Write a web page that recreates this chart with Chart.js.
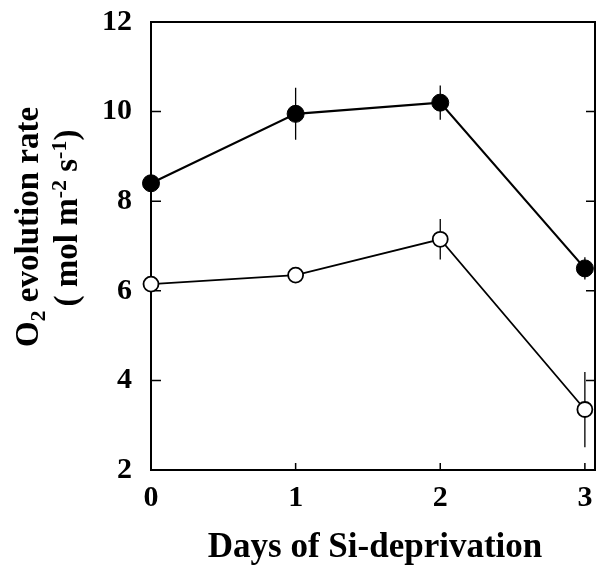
<!DOCTYPE html>
<html>
<head>
<meta charset="utf-8">
<script src="https://cdn.jsdelivr.net/npm/chart.js@4/dist/chart.umd.min.js"></script>
<style>
  body { margin: 0; background: #fff; }
  #wrap { width: 600px; height: 566px; }
</style>
</head>
<body>
<div id="wrap"><canvas id="o2Chart" width="600" height="566"></canvas></div>
<script>
const days = [0, 1, 2, 3];
const filledRate = [8.4, 9.95, 10.2, 6.5];
const filledErr = [0.15, 0.58, 0.38, 0.25];
const openRate = [6.15, 6.35, 7.15, 3.35];
const openErr = [0.1, 0.1, 0.45, 0.84];
const xTicks = [0, 1, 2, 3];
const yTicks = [2, 4, 6, 8, 10, 12];

const serif = '"Liberation Serif", "Times New Roman", serif';
const toPts = (ys) => days.map((d, i) => ({ x: d, y: ys[i] }));

// rotated text with sub/superscripts: parts = [[text, 'n'|'sub'|'sup'], ...]
const drawRich = (ctx, parts, bx, cy, size) => {
    const fontFor = t => `bold ${t === 'n' ? size : Math.round(size * 0.68)}px ${serif}`;
    let total = 0;
    parts.forEach(([s, t]) => { ctx.font = fontFor(t); total += ctx.measureText(s).width; });
    ctx.save();
    ctx.translate(bx, cy);
    ctx.rotate(-Math.PI / 2);
    ctx.textBaseline = 'alphabetic';
    ctx.textAlign = 'left';
    let x = -total / 2;
    parts.forEach(([s, t]) => {
        ctx.font = fontFor(t);
        const dy = t === 'sub' ? size * 0.22 : t === 'sup' ? -size * 0.34 : 0;
        ctx.fillText(s, x, dy);
        x += ctx.measureText(s).width;
    });
    ctx.restore();
};

const framePlugin = {
    id: 'frame',
    beforeDatasetsDraw(chart) {
        const { ctx, chartArea: a, scales: { x, y } } = chart;
        ctx.save();
        ctx.strokeStyle = '#000';
        ctx.lineWidth = 2;
        ctx.strokeRect(a.left, a.top, a.right - a.left, a.bottom - a.top);
        ctx.lineWidth = 1.5;
        ctx.beginPath();
        y.ticks.forEach(t => {
            const py = y.getPixelForValue(t.value);
            if (t.value === 2 || t.value === 12) return;
            ctx.moveTo(a.left, py); ctx.lineTo(a.left + 10, py);
            ctx.moveTo(a.right, py); ctx.lineTo(a.right - 9, py);
        });
        x.ticks.forEach(t => {
            const px = x.getPixelForValue(t.value);
            if (t.value === 0) return;
            ctx.moveTo(px, a.bottom); ctx.lineTo(px, a.bottom - 7);
        });
        ctx.stroke();

        // error bars
        ctx.lineWidth = 1.3;
        ctx.beginPath();
        [[filledRate, filledErr], [openRate, openErr]].forEach(([vals, errs]) => {
            vals.forEach((v, i) => {
                const px = x.getPixelForValue(days[i]);
                ctx.moveTo(px, y.getPixelForValue(v + errs[i]));
                ctx.lineTo(px, y.getPixelForValue(v - errs[i]));
            });
        });
        ctx.stroke();
        ctx.restore();
    },
    afterDraw(chart) {
        const { ctx } = chart;
        ctx.save();
        ctx.fillStyle = '#000';
        ctx.font = `bold 35px ${serif}`;
        ctx.textAlign = 'center';
        ctx.textBaseline = 'alphabetic';
        ctx.fillText('Days of Si-deprivation', 375, 557);
        ctx.restore();
        ctx.fillStyle = '#000';
        drawRich(ctx, [['O', 'n'], ['2', 'sub'], [' evolution rate', 'n']], 38, 227, 33);
        drawRich(ctx, [['( mol m', 'n'], ['-2', 'sup'], [' s', 'n'], ['-1', 'sup'], [')', 'n']], 77, 218, 33);
    }
};

new Chart(document.getElementById('o2Chart'), {
    type: 'scatter',
    data: {
        datasets: [
            {
                data: toPts(filledRate), showLine: true, clip: false,
                borderColor: '#000', borderWidth: 2.2,
                pointBackgroundColor: '#000', pointBorderColor: '#000',
                pointRadius: 8.5, pointBorderWidth: 1
            },
            {
                data: toPts(openRate), showLine: true, clip: false,
                borderColor: '#000', borderWidth: 1.8,
                pointBackgroundColor: '#fff', pointBorderColor: '#000',
                pointRadius: 7.5, pointBorderWidth: 1.8
            }
        ]
    },
    options: {
        responsive: false,
        animation: false,
        layout: { autoPadding: false, padding: { top: 22, right: 5, left: 0, bottom: 0 } },
        plugins: { legend: { display: false }, tooltip: { enabled: false } },
        scales: {
            x: {
                type: 'linear', min: 0, max: 3.07,
                grid: { display: false, drawTicks: false }, border: { display: false },
                afterBuildTicks: s => { s.ticks = xTicks.map(v => ({ value: v })); },
                afterFit: s => { s.height = 96; s.paddingLeft = 0; s.paddingRight = 0; },
                ticks: { color: '#000', padding: 10, font: { family: serif, weight: 'bold', size: 30 } }
            },
            y: {
                min: 2, max: 12,
                grid: { display: false, drawTicks: false }, border: { display: false },
                afterBuildTicks: s => { s.ticks = yTicks.map(v => ({ value: v })); },
                afterFit: s => { s.width = 151; s.paddingTop = 0; s.paddingBottom = 0; },
                ticks: { color: '#000', padding: 19, font: { family: serif, weight: 'bold', size: 30 } }
            }
        }
    },
    plugins: [framePlugin]
});
</script>
</body>
</html>
